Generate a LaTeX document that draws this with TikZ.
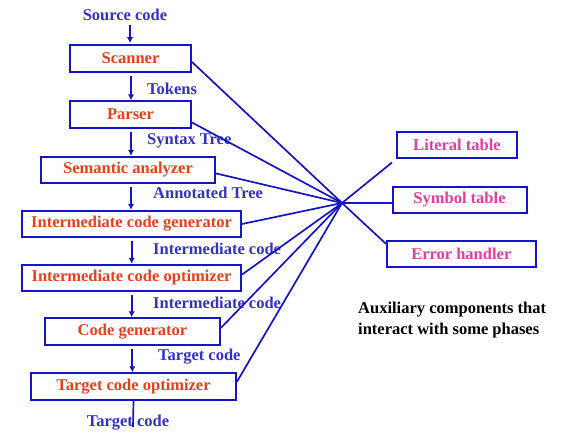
\documentclass[tikz,border=0pt]{standalone}
\usepackage{fontspec}
\setmainfont{Liberation Serif}
\usetikzlibrary{calc,arrows.meta}
\definecolor{boxblue}{RGB}{20,20,200}
\definecolor{redtxt}{RGB}{232,64,28}
\definecolor{lblblue}{RGB}{50,50,200}
\definecolor{pinktxt}{RGB}{230,60,160}
\begin{document}
\begin{tikzpicture}[x=1pt,y=-1pt,
  every node/.style={font=\fontsize{16.5}{21}\selectfont\bfseries},
  phase/.style={draw=boxblue,line width=2pt,fill=white,inner sep=0pt,minimum height=26.5pt,text=redtxt},
  aux/.style={draw=boxblue,line width=2pt,fill=white,inner sep=0pt,minimum height=26pt,text=pinktxt},
  lbl/.style={text=lblblue,inner sep=0pt,anchor=west},
  flow/.style={draw=boxblue,line width=1.8pt,-{Latex[length=6pt,width=6.5pt]}},
  link/.style={draw=boxblue,line width=1.7pt}]
\useasboundingbox (0,0) rectangle (561,436);
% phases
\node[phase,minimum width=121pt] (scan) at (130.5,58.3) {Scanner};
\node[phase,minimum width=121pt] (pars) at (130.5,114.5) {Parser};
\node[phase,minimum width=174pt] (sem) at (128,170) {Semantic analyzer};
\node[phase,minimum width=219pt] (igen) at (131.5,224) {Intermediate code generator};
\node[phase,minimum width=219pt] (iopt) at (131.5,278) {Intermediate code optimizer};
\node[phase,minimum width=175pt] (cgen) at (132.5,331.5) {Code generator};
\node[phase,minimum width=205pt] (topt) at (133.5,386.5) {Target code optimizer};
% auxiliary
\node[aux,minimum width=120pt] (lit) at (457,145) {Literal table};
\node[aux,minimum width=134pt] (sym) at (459.5,199.7) {Symbol table};
\node[aux,minimum width=149pt] (err) at (461.3,253.7) {Error handler};
\coordinate (hub) at (342,203);
% labels
\node[text=lblblue,inner sep=0pt] (src) at (125,15) {Source code};
\node[lbl] (ltok) at (147,89) {Tokens};
\node[lbl] (lsyn) at (147,141) {Syntax Tree};
\node[lbl] (lann) at (153,193) {Annotated Tree};
\node[lbl] (lic1) at (153,249) {Intermediate code};
\node[lbl] (lic2) at (153,303) {Intermediate code};
\node[lbl] (ltc) at (158,357) {Target code};
\node[text=lblblue,inner sep=0pt] (out) at (128,423) {Target code};
\node[inner sep=0pt,anchor=west,align=left,text=black] (note) at (358,320) {Auxiliary components that\\interact with some phases};
% flow arrows
\draw[flow] ($(src.south)+(5,4)$) -- ($(scan.north)+(-0.5,-1)$);
\draw[flow] ($(scan.south)+(0.5,3)$) -- ($(pars.north)+(0.5,0)$);
\draw[flow] ($(pars.south)+(0.5,3)$) -- ($(sem.north)+(3,0)$);
\draw[flow] ($(sem.south)+(3,3)$) -- ($(igen.north)+(-0.5,0)$);
\draw[flow] ($(igen.south)+(0.2,3)$) -- ($(iopt.north)+(0.2,0)$);
\draw[flow] ($(iopt.south)+(0.2,3)$) -- ($(cgen.north)+(-0.8,0)$);
\draw[flow] ($(cgen.south)+(-0.2,3)$) -- ($(topt.north)+(-1.2,0)$);
\draw[link] (topt.south) -- ($(out.center)+(5,4)$);
% links to hub
\draw[link] ($(scan.north east)!0.63!(scan.south east)$) -- (hub);
\draw[link] ($(pars.north east)!0.78!(pars.south east)$) -- (hub);
\draw[link] ($(sem.north east)!0.62!(sem.south east)$) -- (hub);
\draw[link] ($(igen.north east)!0.5!(igen.south east)$) -- (hub);
\draw[link] ($(iopt.north east)!0.38!(iopt.south east)$) -- (hub);
\draw[link] ($(cgen.north east)!0.37!(cgen.south east)$) -- (hub);
\draw[link] ($(topt.north east)!0.33!(topt.south east)$) -- (hub);
\draw[link] (hub) -- ($(lit.south west)+(-4,3.5)$);
\draw[link] (hub) -- (hub -| sym.west);
\draw[link] (hub) -- ($(err.north west)+(0,4)$);
\end{tikzpicture}
\end{document}
